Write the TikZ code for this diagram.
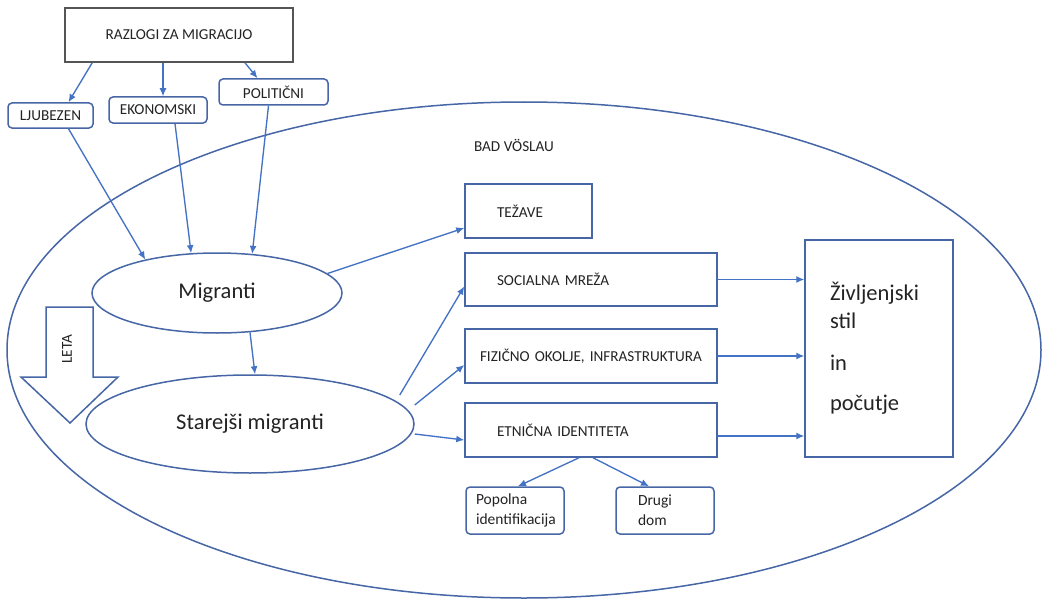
\documentclass[tikz,border=0pt]{standalone}
\usepackage{fontspec}
\setmainfont{Carlito}
\usepackage{tikz}
\usetikzlibrary{arrows.meta}
\usetikzlibrary{shapes.geometric}
\definecolor{arrblue}{RGB}{68,114,196}
\definecolor{boxblue}{RGB}{70,102,165}
\definecolor{txtgray}{RGB}{35,35,35}

\begin{document}
\begin{tikzpicture}[x=1pt,y=-1pt, text=txtgray,
    lbl/.style={font=\fontsize{15.2}{18}\selectfont},
    box/.style={draw=boxblue, line width=1.5pt, lbl, inner ysep=0pt, align=left},
    tag/.style={draw=boxblue, line width=1.5pt, rounded corners=4pt, lbl, inner sep=0pt},
    oval/.style={draw=boxblue, line width=1.5pt, ellipse, inner sep=0pt, font=\fontsize{22.5}{26}\selectfont},
    arr/.style={draw=arrblue, line width=1.35pt, -{Latex[length=8pt,width=7pt]}}]
    \useasboundingbox (0,0) rectangle (1045,602);
        % region
        \node[draw=boxblue, line width=1.5pt, ellipse, minimum width=1034pt, minimum height=496pt] (voslau) at (524,350) {};
        \node[lbl] (badv) at (514,145) {BAD VÖSLAU};
        % reasons
        \node[draw={rgb,255:red,85;green,85;blue,85}, line width=1.6pt, lbl, minimum width=228pt, minimum height=54pt] (raz) at (179,35) {RAZLOGI ZA MIGRACIJO};
        \node[tag, minimum width=85pt, minimum height=25pt] (lju) at (50.5,115.5) {LJUBEZEN};
        \node[tag, minimum width=98pt, minimum height=26pt] (eko) at (158,110) {EKONOMSKI};
        \node[tag, minimum width=109pt, minimum height=26pt] (pol) at (273.5,92) {POLITIČNI};
        % people
        \node[oval, minimum width=250pt, minimum height=80pt] (mig) at (217,293) {Migranti};
        \node[oval, minimum width=328pt, minimum height=98pt] (star) at (250,424) {Starejši migranti};
        \draw[draw=boxblue, line width=1.5pt] (46,307) -- (93,307) -- (93,377) -- (118,377) -- (70,423) -- (21,377) -- (46,377) -- cycle;
        \node[lbl, rotate=90] (leta) at (67,349) {LETA};
        % factors
        \node[box, inner xsep=32pt, text width=63pt, minimum height=54pt] (tez) at (528.5,211) {TEŽAVE};
        \node[box, inner xsep=32pt, text width=188pt, minimum height=53pt] (soc) at (591,279.5) {SOCIALNA MREŽA};
        \node[box, inner xsep=15pt, text width=222pt, minimum height=54pt] (fiz) at (591,356) {FIZIČNO OKOLJE, INFRASTRUKTURA};
        \node[box, inner xsep=32pt, text width=188pt, minimum height=54pt] (etn) at (591,430) {ETNIČNA IDENTITETA};
        \node[tag, align=left, inner xsep=10pt, text width=78pt, minimum height=47pt, font=\fontsize{15.5}{20}\selectfont] (pop) at (515,510.5) {Popolna\\identifikacija};
        \node[tag, align=left, inner xsep=22pt, text width=54pt, minimum height=47pt, font=\fontsize{15.5}{20}\selectfont] (dru) at (665,510.5) {Drugi\\dom};
        \node[box, inner xsep=25pt, text width=98pt, minimum height=217pt, font=\fontsize{22.5}{28}\selectfont] (ziv) at (879,348.5) {Življenjski\\stil\\[14pt]in\\[12pt]počutje};
        % arrows
        \draw[arr] ([xshift=28pt]raz.south west) -- ([xshift=18pt]lju.north);
        \draw[arr] ([xshift=-16pt]raz.south) -- ([xshift=-16pt]raz.south |- eko.north);
        \draw[arr] ([xshift=66pt]raz.south) -- ([xshift=-16pt]pol.north);
        \draw[arr] ([xshift=18pt]lju.south) -- (mig.155);
        \draw[arr] ([xshift=17pt]eko.south) -- (mig.123);
        \draw[arr] ([xshift=-5pt]pol.south) -- (mig.48);
        \draw[arr] (mig.-50) -- ([xshift=5pt]star.north);
        \draw[arr] (mig.10) -- ([yshift=-17pt]tez.west);
        \draw[arr] ([shift={(-15pt,29pt)}]star.east) -- ([yshift=-7pt]soc.west);
        \draw[arr] ([yshift=19pt]star.east) -- ([yshift=-9pt]fiz.west);
        \draw[arr] ([yshift=-10pt]star.east) -- ([yshift=-10pt]etn.west);
        \draw[arr] ([xshift=-12pt]etn.south) -- ([xshift=3pt]pop.north);
        \draw[arr] ([xshift=2pt]etn.south) -- ([xshift=-16pt]dru.north);
        \draw[arr] (soc.east) -- (soc.east -| ziv.west);
        \draw[arr] (fiz.east) -- (fiz.east -| ziv.west);
        \draw[arr] ([yshift=-6pt]etn.east) -- ([yshift=-6pt]etn.east -| ziv.west);
\end{tikzpicture}
\end{document}
